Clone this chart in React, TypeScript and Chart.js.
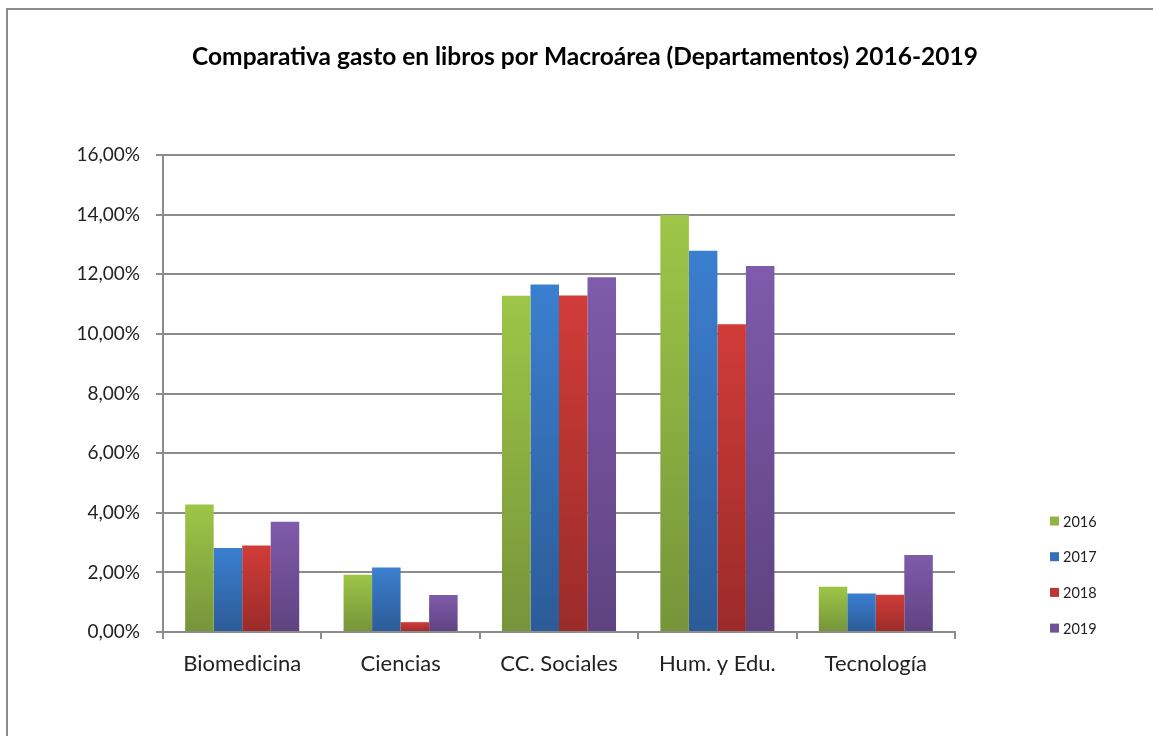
import React, { useEffect, useRef } from 'react';
import { Chart, registerables } from 'chart.js';

Chart.register(...registerables);

const titleText = 'Comparativa gasto en libros por Macroárea (Departamentos) 2016-2019';
const categories = ['Biomedicina', 'Ciencias', 'CC. Sociales', 'Hum. y Edu.', 'Tecnología'];
const seriesNames = ['2016', '2017', '2018', '2019'];
const values2016 = [4.28, 1.92, 11.28, 13.99, 1.52];
const values2017 = [2.82, 2.16, 11.66, 12.79, 1.29];
const values2018 = [2.90, 0.33, 11.29, 10.32, 1.25];
const values2019 = [3.70, 1.24, 11.90, 12.28, 2.58];
const yMin = 0;
const yMax = 16;
const yStep = 2;

const topColors = ['#9dc647', '#3b7fd0', '#d03c38', '#7f5bab'];
const bottomColors = ['#76943a', '#2c5b97', '#9a2b29', '#5e4380'];
const midColors = ['#8fb542', '#3570bb', '#be3532', '#71519a'];

const FONT = 'Lato, "Noto Sans", "Liberation Sans", sans-serif';

const titlePlugin = {
  id: 'centeredTitle',
  afterDraw(chart: any) {
    const ctx = chart.ctx;
    ctx.save();
    ctx.font = `bold 24.5px ${FONT}`;
    ctx.fillStyle = '#000';
    ctx.textAlign = 'center';
    ctx.textBaseline = 'middle';
    ctx.fillText(titleText, 585, 57);
    ctx.restore();
  },
};

const legendPlugin = {
  id: 'sideLegend',
  afterDraw(chart: any) {
    const ctx = chart.ctx;
    ctx.save();
    ctx.font = `14.5px ${FONT}`;
    ctx.textBaseline = 'middle';
    ctx.textAlign = 'left';
    chart.data.datasets.forEach((ds: any, i: number) => {
      const y = 521 + i * 35.7;
      ctx.fillStyle = midColors[i];
      ctx.fillRect(1050, y - 4.5, 9, 9);
      ctx.fillStyle = '#222';
      ctx.fillText(ds.label, 1063, y + 1);
    });
    ctx.restore();
  },
};

function makeBg(i: number) {
  return (c: any) => {
    const chart = c.chart;
    const y = chart.scales && chart.scales.y;
    if (!y || c.raw === undefined || !chart.chartArea) return midColors[i];
    const top = y.getPixelForValue(c.raw);
    const bottom = y.getPixelForValue(0);
    if (!isFinite(top) || !isFinite(bottom) || bottom - top < 1) return midColors[i];
    const g = chart.ctx.createLinearGradient(0, top, 0, bottom);
    g.addColorStop(0, topColors[i]);
    g.addColorStop(1, bottomColors[i]);
    return g;
  };
}

export default function App() {
  const ref = useRef<HTMLCanvasElement>(null);
  useEffect(() => {
    if (!ref.current) return;
    const all = [values2016, values2017, values2018, values2019];
    const chart = new Chart(ref.current, {
      type: 'bar',
      data: {
        labels: categories,
        datasets: all.map((vals, i) => ({
          label: seriesNames[i],
          data: vals,
          backgroundColor: makeBg(i),
          borderWidth: 0,
          barPercentage: 1,
          categoryPercentage: 0.72,
        })),
      },
      plugins: [titlePlugin, legendPlugin],
      options: {
        animation: false,
        responsive: true,
        maintainAspectRatio: false,
        layout: { padding: { left: 0, right: 198, top: 155, bottom: 0 } },
        plugins: {
          legend: { display: false },
          tooltip: { enabled: false },
          title: { display: false },
        },
        scales: {
          x: {
            afterFit(scale: any) { scale.height = 104; },
            grid: {
              display: true,
              offset: true,
              drawOnChartArea: false,
              drawTicks: true,
              tickLength: 7,
              color: '#8c8c8c',
              lineWidth: 2,
            },
            border: { display: true, color: '#8c8c8c', width: 2 },
            ticks: {
              color: '#222',
              padding: 12,
              font: { family: FONT, size: 22 },
              maxRotation: 0,
            },
          },
          y: {
            min: yMin,
            max: yMax,
            afterFit(scale: any) { scale.width = 163; },
            grid: {
              color: '#8c8c8c',
              lineWidth: 2,
              drawTicks: true,
              tickLength: 7,
            },
            border: { display: true, color: '#8c8c8c', width: 2 },
            ticks: {
              stepSize: yStep,
              color: '#222',
              padding: 16,
              font: { family: FONT, size: 19 },
              callback: (v: any) => Number(v).toFixed(2).replace('.', ',') + '%',
            },
          },
        },
      },
    });
    return () => chart.destroy();
  }, []);
  return (
    <div style={{ position: 'fixed', left: 0, top: 0, width: 1153, height: 736, background: '#fff' }}>
      <div style={{ position: 'absolute', left: 6, top: 8, width: 1160, height: 740, border: '2px solid #8c8c8c', boxSizing: 'border-box' }} />
      <div style={{ position: 'absolute', left: 0, top: 0, width: 1153, height: 736 }}>
        <canvas ref={ref} />
      </div>
    </div>
  );
}
